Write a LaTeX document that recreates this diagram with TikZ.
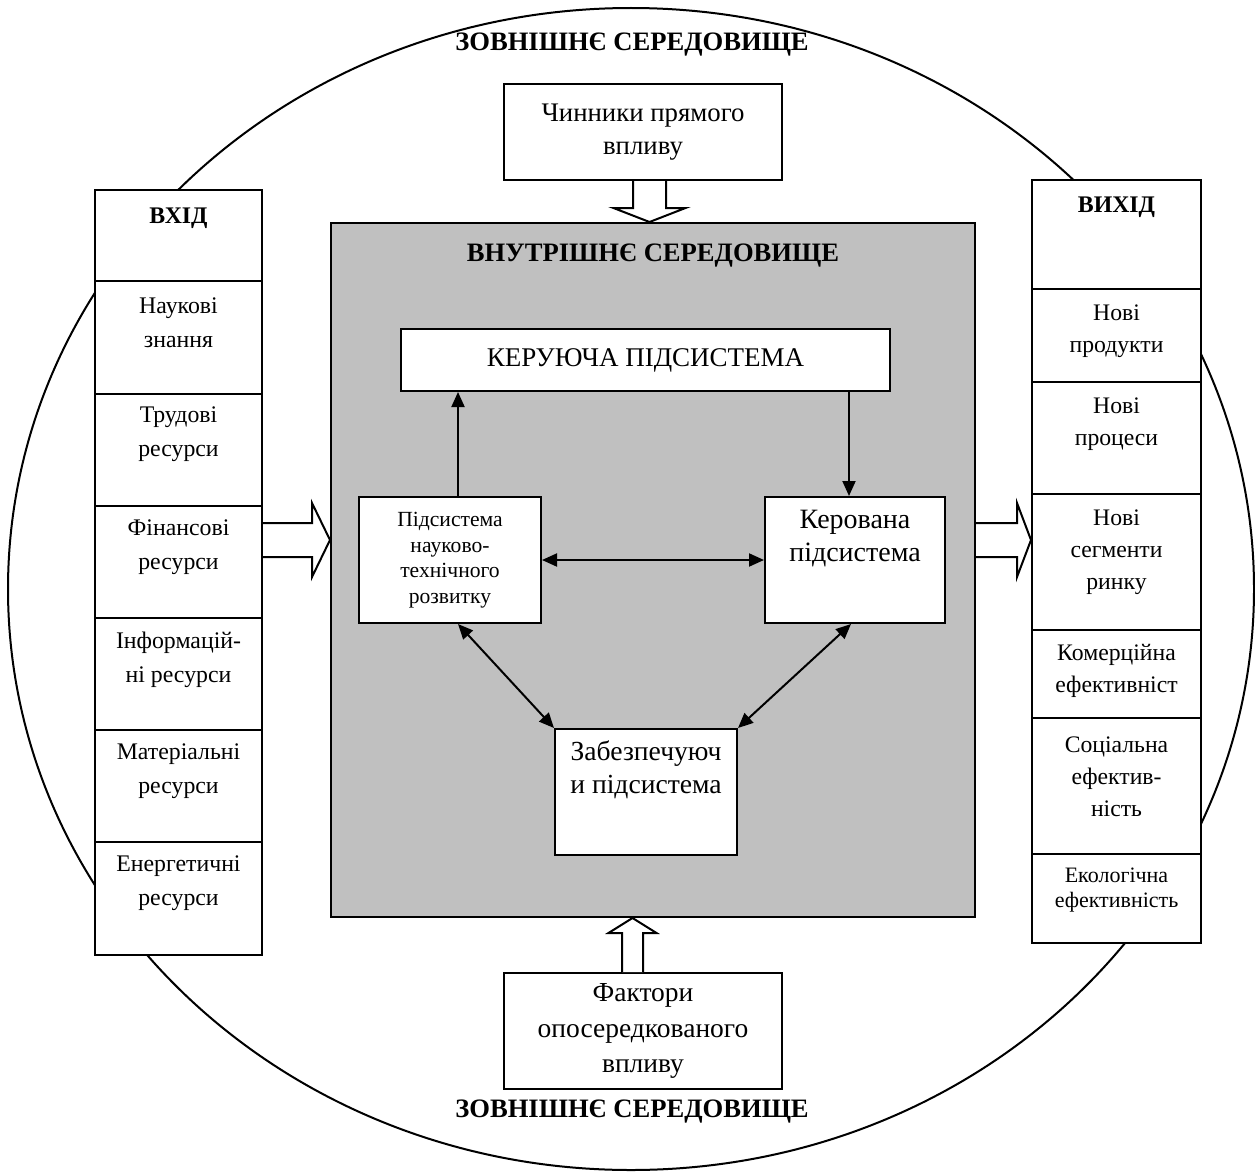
\documentclass[tikz,border=0pt]{standalone}
\usepackage{fontspec}
\setmainfont{Liberation Serif}
\usetikzlibrary{arrows.meta,shapes.geometric,calc}
\definecolor{innergray}{RGB}{192,192,192}
\begin{document}
\begin{tikzpicture}[x=1pt,y=-1pt,line width=2pt,
  fsz/.style 2 args={font=\fontsize{#1pt}{#2pt}\selectfont},
  cellbox/.style 2 args={draw,fill=white,rectangle,inner sep=0pt,
    minimum width=#1pt,minimum height=#2pt},
  txt/.style={align=center,inner sep=0pt},
  ttl/.style={txt,font=\fontsize{26.6pt}{30pt}\selectfont\bfseries},
  headtxt/.style={txt,font=\fontsize{23.8pt}{28pt}\selectfont\bfseries},
  coltxt/.style={txt,fsz={23.8}{34}},
  rcoltxt/.style={txt,fsz={23.7}{32}},
  arr/.style={-{Triangle[length=15pt,width=13pt]}},
  darr/.style={{Triangle[length=15pt,width=13pt]}-{Triangle[length=15pt,width=13pt]}},
  blk/.style={draw,fill=white,line width=2pt,line join=miter}]
\useasboundingbox (0,0) rectangle (1255,1172);

% outer environment
\node[draw,ellipse,inner sep=0pt,minimum width=1246pt,minimum height=1162pt] (env) at (631,589) {};
\node[ttl] (envtop) at (632,45) {ЗОВНІШНЄ СЕРЕДОВИЩЕ};
\node[ttl] (envbot) at (632,1112) {ЗОВНІШНЄ СЕРЕДОВИЩЕ};

% inner environment
\node[draw,fill=innergray,rectangle,inner sep=0pt,minimum width=644pt,minimum height=694pt] (inner) at (653,570) {};
\node[ttl] (innerttl) at (653,256) {ВНУТРІШНЄ СЕРЕДОВИЩЕ};

% factor boxes
\node[cellbox={278}{96},txt,fsz={26.8}{33}] (topbox) at (643,132) {Чинники прямого\\впливу};
\node[cellbox={278}{116},txt,fsz={27.5}{35.5}] (fak) at (643,1031) {Фактори\\опосередкованого\\впливу};

% subsystems
\node[cellbox={489}{62},txt,fsz={27}{30}] (ker) at (645.5,360) {КЕРУЮЧА ПІДСИСТЕМА};
\node[cellbox={182}{126},txt,fsz={21.6}{25.5}] (nts) at (450,560) {Підсистема\\науково-\\технічного\\розвитку};
\node[cellbox={180}{126}] (kerov) at (855,560) {};
\node[txt,fsz={28}{33}] (kerovt) at ([yshift=21pt]kerov.center) {Керована\\підсистема};
\node[cellbox={182}{126}] (zab) at (646,792) {};
\node[txt,fsz={27.6}{33}] (zabt) at ([yshift=22pt]zab.center) {Забезпечуюч\\и підсистема};

% connections between subsystems
\coordinate (nu) at ([xshift=8pt]nts.north);
\draw[arr] (nu) -- (nu |- ker.south);
\coordinate (kd) at ([xshift=-6pt]kerov.north);
\draw[arr] (kd |- ker.south) -- (kd);
\draw[darr] (nts.east) -- (kerov.west);
\draw[darr] ([xshift=8pt]nts.south) -- (zab.north west);
\draw[darr] ([xshift=-4pt]kerov.south) -- (zab.north east);

% input column
\node[cellbox={167}{91}] (in0) at (178.5,235.5) {};
\node[cellbox={167}{113}] (in1) at (178.5,337.5) {};
\node[cellbox={167}{112}] (in2) at (178.5,450) {};
\node[cellbox={167}{112}] (in3) at (178.5,562) {};
\node[cellbox={167}{112}] (in4) at (178.5,674) {};
\node[cellbox={167}{112}] (in5) at (178.5,786) {};
\node[cellbox={167}{113}] (in6) at (178.5,898.5) {};
\node[headtxt] (in0t) at ([yshift=17.5pt]in0.center) {ВХІД};
\node[coltxt] (in1t) at ([yshift=15pt]in1.center) {Наукові\\знання};
\node[coltxt] (in2t) at ([yshift=15.5pt]in2.center) {Трудові\\ресурси};
\node[coltxt] (in3t) at ([yshift=14.5pt]in3.center) {Фінансові\\ресурси};
\node[coltxt] (in4t) at ([yshift=14.5pt]in4.center) {Інформацій-\\ні ресурси};
\node[coltxt] (in5t) at ([yshift=14.5pt]in5.center) {Матеріальні\\ресурси};
\node[coltxt] (in6t) at ([yshift=15pt]in6.center) {Енергетичні\\ресурси};

% output column
\node[cellbox={169}{109}] (out0) at (1116.5,234.5) {};
\node[cellbox={169}{93}] (out1) at (1116.5,335.5) {};
\node[cellbox={169}{112}] (out2) at (1116.5,438) {};
\node[cellbox={169}{136}] (out3) at (1116.5,562) {};
\node[cellbox={169}{88}] (out4) at (1116.5,674) {};
\node[cellbox={169}{136}] (out5) at (1116.5,786) {};
\node[cellbox={169}{89}] (out6) at (1116.5,898.5) {};
\node[headtxt] (out0t) at ([yshift=27.5pt]out0.center) {ВИХІД};
\node[rcoltxt] (out1t) at ([yshift=4.5pt]out1.center) {Нові\\продукти};
\node[rcoltxt] (out2t) at ([yshift=14pt]out2.center) {Нові\\процеси};
\node[rcoltxt] (out3t) at ([yshift=10pt]out3.center) {Нові\\сегменти\\ринку};
\node[rcoltxt] (out4t) at ([yshift=3pt]out4.center) {Комерційна\\ефективніст};
\node[rcoltxt] (out5t) at ([yshift=9pt]out5.center) {Соціальна\\ефектив-\\ність};
\node[txt,fsz={22}{25}] (out6t) at ([yshift=8pt]out6.center) {Екологічна\\ефективність};

% block arrows
\coordinate (ta) at ([xshift=6.5pt]topbox.south);
\coordinate (tt) at (ta |- inner.north);
\draw[blk] ($(ta)+(-16.5,0)$) -- ($(tt)+(-16.5,-14)$) -- ($(tt)+(-36,-14)$) -- (tt)
  -- ($(tt)+(36,-14)$) -- ($(tt)+(16.5,-14)$) -- ($(ta)+(16.5,0)$);
\coordinate (ba) at ([xshift=-10.5pt]fak.north);
\coordinate (bt) at (ba |- inner.south);
\draw[blk] ($(ba)+(-10.5,0)$) -- ($(bt)+(-10.5,15)$) -- ($(bt)+(-24,15)$) -- (bt)
  -- ($(bt)+(24,15)$) -- ($(bt)+(10.5,15)$) -- ($(ba)+(10.5,0)$);
\coordinate (la) at ([yshift=22pt]in3.east);
\coordinate (lt) at (la -| inner.west);
\draw[blk] ($(la)+(0,-17)$) -- ($(lt)+(-18,-17)$) -- ($(lt)+(-18,-37)$) -- (lt)
  -- ($(lt)+(-18,37)$) -- ($(lt)+(-18,17)$) -- ($(la)+(0,17)$);
\coordinate (ra) at (inner.east |- la);
\coordinate (rt) at (ra -| out3.west);
\draw[blk] ($(ra)+(0,-17)$) -- ($(rt)+(-14,-17)$) -- ($(rt)+(-14,-37)$) -- (rt)
  -- ($(rt)+(-14,37)$) -- ($(rt)+(-14,17)$) -- ($(ra)+(0,17)$);
\end{tikzpicture}
\end{document}
